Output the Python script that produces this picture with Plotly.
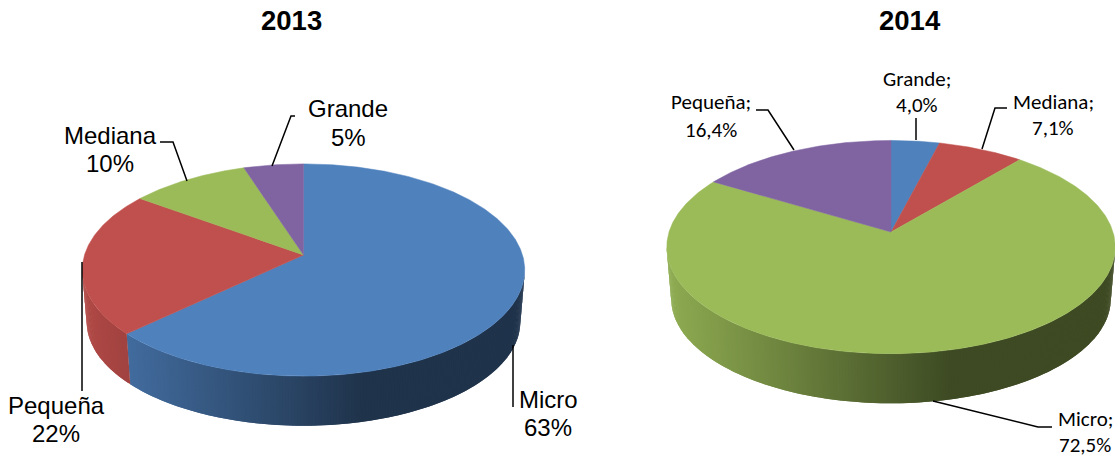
import numpy as np
import plotly.graph_objects as go

# ---- data ----
names_2013 = ["Micro", "Pequeña", "Mediana", "Grande"]
values_2013 = [63, 22, 10, 5]
colors_2013 = ["#4F81BD", "#C0504D", "#9BBB59", "#8064A2"]

names_2014 = ["Grande", "Mediana", "Micro", "Pequeña"]
values_2014 = [4.0, 7.1, 72.5, 16.4]
colors_2014 = ["#4F81BD", "#C0504D", "#9BBB59", "#8064A2"]

# ---- style / geometry of the two discs ----
K = 0.1415            # perspective strength
FRONT_SCALE = 0.98    # taper of the bottom rim
disc_2013 = dict(cx=303.5, cy=255, R=219, H=104, depth=52)
disc_2014 = dict(cx=891, cy=232, R=222, H=104.5, depth=52)


def project(theta, d):
    s = 1 / (1 + K * np.cos(theta))
    return d["cx"] + d["R"] * np.sin(theta) * s, d["cy"] - d["H"] * np.cos(theta) * s


def project_low(theta, d):
    x, y = project(theta, d)
    return d["cx"] + FRONT_SCALE * (x - d["cx"]), d["cy"] + d["depth"] + FRONT_SCALE * (y - d["cy"])


def shade(hex_color, f):
    r, g, b = [int(hex_color[i:i + 2], 16) for i in (1, 3, 5)]
    return f"rgb({int(r * f)},{int(g * f)},{int(b * f)})"


def add_disc(fig, values, colors, d):
    edges = np.cumsum([0] + list(values)) / sum(values) * 2 * np.pi
    wall_a, wall_b = np.arccos(-K), 2 * np.pi - np.arccos(-K)
    left = d["cx"] - d["R"] * 1.01
    width = 2 * d["R"] * 1.01
    # side wall: each band overlaps the next so no seams show
    for a, b, c in zip(edges[:-1], edges[1:], colors):
        lo, hi = max(a, wall_a), min(b, wall_b)
        if hi <= lo:
            continue
        n = max(2, int((hi - lo) / 0.012))
        th = np.linspace(lo, hi, n + 1)
        for i in range(n):
            t0, t1 = th[i], th[min(i + 2, n)]
            arc = np.linspace(t0, t1, 4)
            xu, yu = project(arc, d)
            xl, yl = project_low(arc[::-1], d)
            xm = project((th[i] + th[i + 1]) / 2, d)[0]
            f = max(0.40, 0.92 - 0.82 * (xm - left) / width)
            fig.add_trace(go.Scatter(x=[*xu, *xl, xu[0]], y=[*yu, *yl, yu[0]], mode="lines",
                                     fill="toself", fillcolor=shade(c, f), line=dict(width=0),
                                     hoverinfo="skip", showlegend=False))
    # top face
    for a, b, c in zip(edges[:-1], edges[1:], colors):
        th = np.linspace(a, b, max(4, int((b - a) / 0.01)))
        xs, ys = project(th, d)
        fig.add_trace(go.Scatter(x=[d["cx"], *xs, d["cx"]], y=[d["cy"], *ys, d["cy"]], mode="lines",
                                 fill="toself", fillcolor=c, line=dict(color=c, width=0.5),
                                 hoverinfo="skip", showlegend=False))


fig = go.Figure()
add_disc(fig, values_2013, colors_2013, disc_2013)
add_disc(fig, values_2014, colors_2014, disc_2014)

# ---- leader lines ----
leaders = [
    [(82, 262), (82, 391)],
    [(513, 345), (513, 407)],
    [(160, 142), (173, 142), (187, 181)],
    [(295, 116), (291, 116), (272, 166)],
    [(756, 110), (768, 110), (794, 150)],
    [(916, 118), (916, 140)],
    [(1007, 108), (995, 108), (982, 149)],
    [(933, 401), (1038, 427), (1052, 427)],
]
for pts in leaders:
    fig.add_trace(go.Scatter(x=[p[0] for p in pts], y=[p[1] for p in pts], mode="lines",
                             line=dict(color="black", width=1.5), hoverinfo="skip", showlegend=False))

# ---- texts ----
ARIAL = "Liberation Sans, Arial, sans-serif"
CALIBRI = "Carlito, Lato, sans-serif"
annots = [dict(x=291, y=20, text="<b>2013</b>", font=dict(family=ARIAL, size=27.5, color="black")),
          dict(x=910, y=20, text="<b>2014</b>", font=dict(family=ARIAL, size=27.5, color="black"))]

pos_2013 = {"Micro": (548, 399, 427), "Pequeña": (56, 405, 433), "Mediana": (110, 135, 163), "Grande": (348, 108, 137)}
for n, v in zip(names_2013, values_2013):
    x, y1, y2 = pos_2013[n]
    for t, y in ((n, y1), (f"{v}%", y2)):
        annots.append(dict(x=x, y=y, text=t, font=dict(family=ARIAL, size=24, color="black")))

pos_2014 = {"Micro": (1085, 419, 445), "Pequeña": (711, 102, 130), "Mediana": (1053, 102, 128), "Grande": (917, 79, 105)}
for n, v in zip(names_2014, values_2014):
    x, y1, y2 = pos_2014[n]
    for t, y in ((f"{n};", y1), (f"{v:.1f}%".replace(".", ","), y2)):
        annots.append(dict(x=x, y=y, text=t, font=dict(family=CALIBRI, size=21, color="black")))
for a in annots:
    a.update(xref="x", yref="y", showarrow=False, xanchor="center", yanchor="middle", align="center")

fig.update_layout(
    width=1115, height=458, margin=dict(l=0, r=0, t=0, b=0),
    paper_bgcolor="white", plot_bgcolor="white", showlegend=False, annotations=annots,
    xaxis=dict(range=[0, 1115], visible=False, fixedrange=True),
    yaxis=dict(range=[458, 0], visible=False, fixedrange=True),
)
fig.write_html("out.html", post_script="document.body.style.margin='0';document.body.style.overflow='hidden';",
               config=dict(displayModeBar=False))
